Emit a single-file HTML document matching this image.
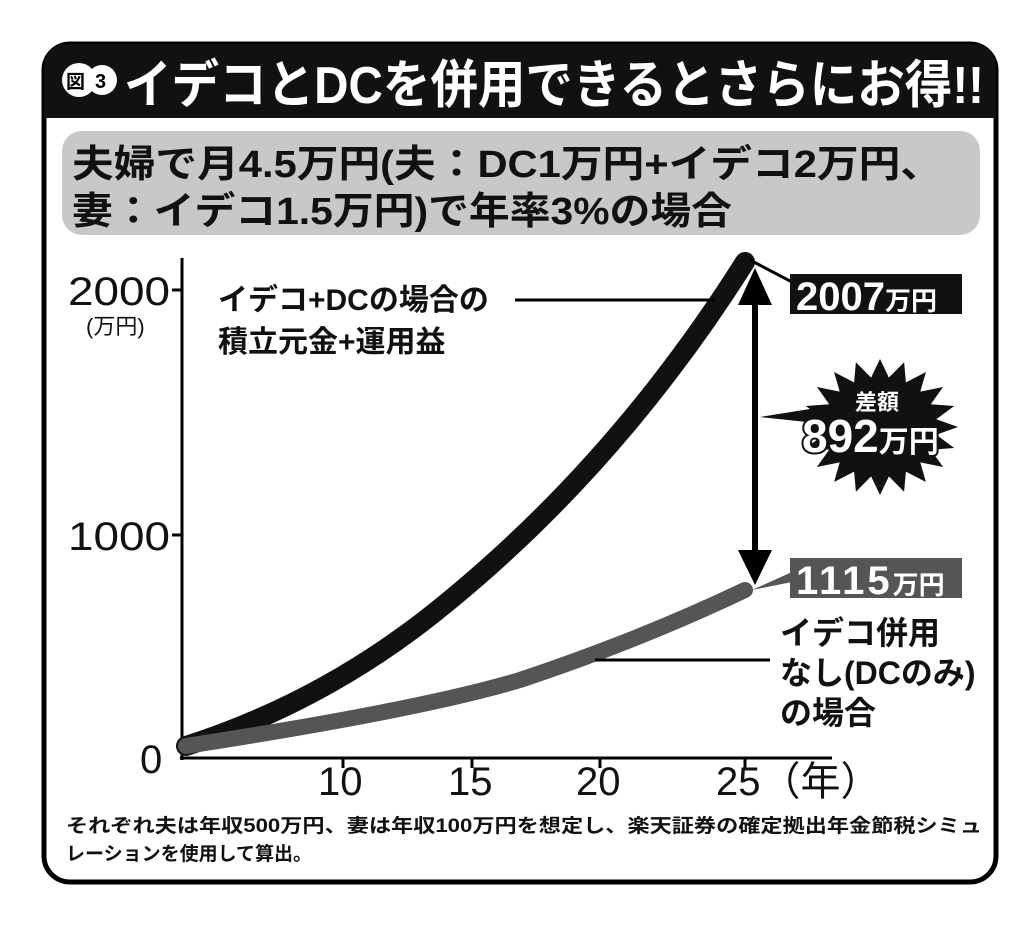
<!DOCTYPE html>
<html><head><meta charset="utf-8"><style>
body{margin:0;background:#fff;}
svg text{font-family:"Liberation Sans","Noto Sans CJK JP",sans-serif;font-weight:bold;}
</style></head><body>
<svg width="1024" height="922" viewBox="0 0 1024 922" xmlns="http://www.w3.org/2000/svg">
<rect x="0" y="0" width="1024" height="922" fill="#fff"/>
<rect x="44" y="44" width="952" height="838" rx="26" fill="#fff" stroke="#000" stroke-width="5"/>
<path d="M44 118 V70 Q44 44 70 44 H970 Q996 44 996 70 V118 Z" fill="#111"/>
<circle cx="79" cy="80" r="17" fill="#fff"/>
<text x="66" y="88" font-size="19" fill="#000">図</text>
<circle cx="102" cy="80" r="15" fill="#fff"/>
<text x="95" y="88" font-size="20" fill="#000">3</text>
<text x="124" y="103" font-size="52" fill="#fff" textLength="860" lengthAdjust="spacingAndGlyphs">イデコとDCを併用できるとさらにお得!!</text>
<rect x="62" y="131" width="918" height="104" rx="20" fill="#c8c8c8"/>
<text x="72" y="177" font-size="38" fill="#111" textLength="870" lengthAdjust="spacingAndGlyphs">夫婦で月4.5万円(夫：DC1万円+イデコ2万円、</text>
<text x="72" y="224" font-size="38" fill="#111" textLength="660" lengthAdjust="spacingAndGlyphs">妻：イデコ1.5万円)で年率3%の場合</text>
<line x1="182" y1="258" x2="182" y2="760" stroke="#000" stroke-width="3"/>
<line x1="180" y1="758" x2="832" y2="758" stroke="#000" stroke-width="3"/>
<line x1="172" y1="290" x2="182" y2="290" stroke="#000" stroke-width="3"/>
<line x1="172" y1="535" x2="182" y2="535" stroke="#000" stroke-width="3"/>
<g stroke="#000" stroke-width="3"><line x1="343" y1="758" x2="343" y2="768"/><line x1="472" y1="758" x2="472" y2="768"/><line x1="600" y1="758" x2="600" y2="768"/><line x1="745" y1="758" x2="745" y2="768"/></g>
<g font-size="40" fill="#111">
<text x="68" y="305" textLength="102" lengthAdjust="spacingAndGlyphs" style="font-weight:normal">2000</text>
<text x="68" y="550" textLength="102" lengthAdjust="spacingAndGlyphs" style="font-weight:normal">1000</text>
<text x="140" y="773" style="font-weight:normal">0</text>
<text x="318" y="795" style="font-weight:normal">10</text>
<text x="448" y="795" style="font-weight:normal">15</text>
<text x="576" y="795" style="font-weight:normal">20</text>
<text x="716" y="795" style="font-weight:normal">25（年）</text>
</g>
<text x="86" y="334" font-size="22" fill="#111" style="font-weight:normal">(万円)</text>
<path d="M186 746 Q330 700 450 600 Q620 460 745 262" fill="none" stroke="#111" stroke-width="20" stroke-linecap="round"/>
<path d="M186 746 Q420 710 520 680 Q640 640 745 590" fill="none" stroke="#555" stroke-width="16" stroke-linecap="round"/>
<line x1="755" y1="300" x2="755" y2="555" stroke="#000" stroke-width="6"/>
<polygon points="755,268 738,305 772,305" fill="#000"/>
<polygon points="755,585 738,550 772,550" fill="#000"/>
<polyline points="750,260 792,282 792,300" fill="none" stroke="#000" stroke-width="3"/>
<rect x="790" y="274" width="172" height="40" fill="#111"/>
<text x="796" y="310" font-size="40" fill="#fff">2007<tspan font-size="26">万円</tspan></text>
<polygon points="752,590 792,572 792,582" fill="#555"/>
<rect x="790" y="558" width="172" height="40" fill="#555"/>
<text x="796" y="594" font-size="40" fill="#fff" letter-spacing="3">1115<tspan font-size="26" letter-spacing="0">万円</tspan></text>
<text x="218" y="310" font-size="30" fill="#111">イデコ+DCの場合の</text>
<text x="218" y="352" font-size="30" fill="#111">積立元金+運用益</text>
<line x1="515" y1="300" x2="715" y2="300" stroke="#000" stroke-width="3"/>
<text x="780" y="644" font-size="32" fill="#111">イデコ併用</text>
<text x="780" y="684" font-size="32" fill="#111">なし(DCのみ)</text>
<text x="780" y="724" font-size="32" fill="#111">の場合</text>
<line x1="595" y1="660" x2="770" y2="660" stroke="#000" stroke-width="3"/>
<polygon fill="#111" points="958,427 936.3,434.8 954.2,448 930.8,449.7 943.1,467 920.3,462.4 925.9,482 905.9,471.6 904.1,491.7 888.9,476.4 880,495 871.1,476.4 855.9,491.7 854.1,471.6 834.1,482 839.7,462.4 816.9,467 829.2,449.7 805.8,448 823.7,434.8 802,427 823.7,419.2 805.8,406 829.2,404.3 816.9,387 839.7,391.6 834.1,372 854.1,382.4 855.9,362.3 871.1,377.6 880,359 888.9,377.6 904.1,362.3 905.9,382.4 925.9,372 920.3,391.6 943.1,387 930.8,404.3 954.2,406 936.3,419.2"/>
<polygon points="760,417 835,405 835,425" fill="#111"/>
<text x="855" y="410" font-size="22" fill="#fff">差額</text>
<text x="802" y="452" font-size="46" fill="#fff" stroke="#111" stroke-width="4" paint-order="stroke">892<tspan font-size="30">万円</tspan></text>
<text x="66" y="832" font-size="19" fill="#111" textLength="916" lengthAdjust="spacingAndGlyphs">それぞれ夫は年収500万円、妻は年収100万円を想定し、楽天証券の確定拠出年金節税シミュ</text>
<text x="66" y="860" font-size="19" fill="#111">レーションを使用して算出。</text>
</svg>
</body></html>
